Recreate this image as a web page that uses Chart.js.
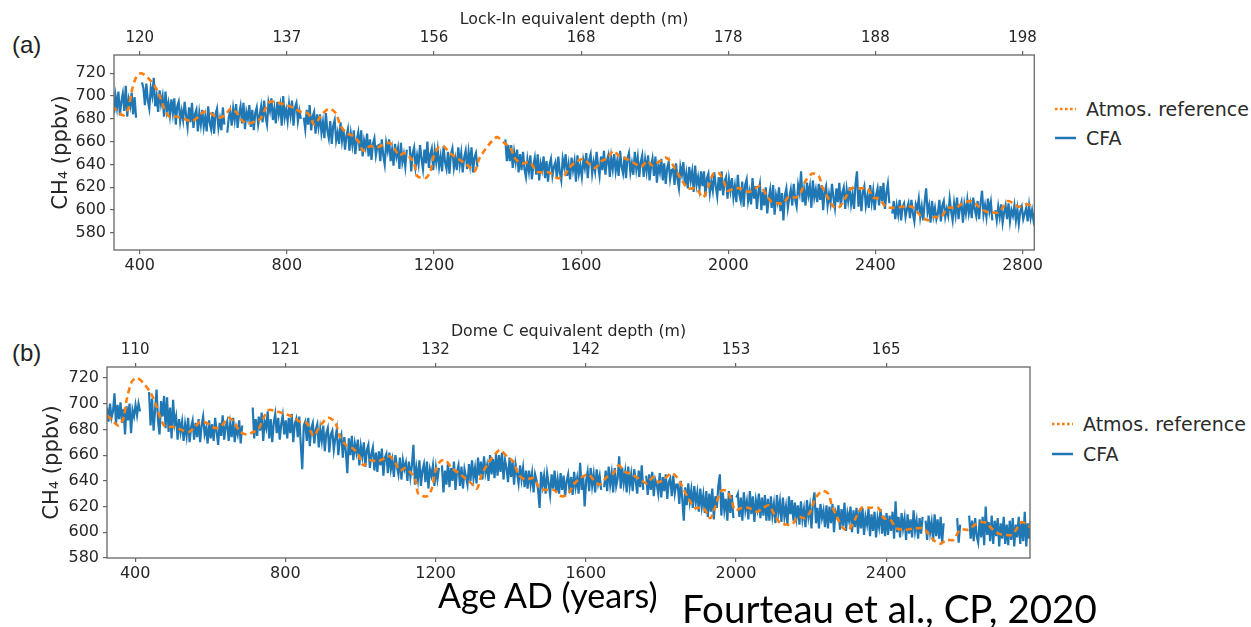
<!DOCTYPE html>
<html>
<head>
<meta charset="utf-8">
<script src="https://cdn.jsdelivr.net/npm/chart.js@4.4.1/dist/chart.umd.min.js"></script>
<style>
  html, body { margin: 0; padding: 0; background: #fff; }
  body { width: 1251px; height: 627px; position: relative; overflow: hidden; font-family: "DejaVu Sans", sans-serif; }
  .panel { position: absolute; left: 0; }
  .tag { position: absolute; left: 12px; font-family: "Liberation Sans", Arial, sans-serif; font-size: 24px; line-height: 28px; color: #222; }
  .legend { position: absolute; font-size: 19px; color: #2a2a2a; }
  .legend .row { display: flex; align-items: center; height: 29px; }
  .legend svg { margin-right: 10px; }
  .foot { position: absolute; font-family: Lato, "Open Sans", sans-serif; color: #000; white-space: nowrap; line-height: 1; }
</style>
</head>
<body>

<div class="tag" style="top:31px">(a)</div>
<div class="tag" style="top:339px">(b)</div>

<div class="panel" style="top:0"><canvas id="chartA" width="1045" height="285"></canvas></div>
<div class="panel" style="top:300px"><canvas id="chartB" width="1040" height="285"></canvas></div>

<div class="legend" style="left:1055px; top:94px">
  <div class="row"><svg width="21" height="6"><line x1="0" y1="3" x2="21" y2="3" stroke="#ff7f0e" stroke-width="2.5" stroke-dasharray="2.6 2.4"/></svg>Atmos. reference</div>
  <div class="row"><svg width="21" height="6"><line x1="0" y1="3" x2="21" y2="3" stroke="#1f77b4" stroke-width="2.5"/></svg>CFA</div>
</div>
<div class="legend" style="left:1052px; top:409px">
  <div class="row" style="height:30px"><svg width="21" height="6"><line x1="0" y1="3" x2="21" y2="3" stroke="#ff7f0e" stroke-width="2.5" stroke-dasharray="2.6 2.4"/></svg>Atmos. reference</div>
  <div class="row" style="height:30px"><svg width="21" height="6"><line x1="0" y1="3" x2="21" y2="3" stroke="#1f77b4" stroke-width="2.5"/></svg>CFA</div>
</div>

<div class="foot" style="left:438px; top:578px; font-size:34px">Age AD (years)</div>
<div class="foot" style="left:682px; top:589px; font-size:38.5px">Fourteau et al., CP, 2020</div>

<script>
// axis ticks
const ageTicks = [400, 800, 1200, 1600, 2000, 2400, 2800];
const ch4Ticks = [580, 600, 620, 640, 660, 680, 700, 720];
const lockInDepth = ['120', '137', '156', '168', '178', '188', '198'];
const domeCDepth = ['110', '121', '132', '142', '153', '165'];

// atmospheric reference record (age AD, ppbv)
const refAge = [325, 342, 356, 369, 378, 391, 404, 422, 440, 453, 467, 480, 498, 520, 542, 560, 573, 591, 613, 631,
  648, 662, 680, 697, 715, 728, 742, 755, 777, 799, 817, 839, 857, 875, 893, 915, 933, 946, 964, 981,
  995, 1008, 1026, 1044, 1061, 1079, 1092, 1106, 1119, 1132, 1146, 1154, 1177, 1190, 1199, 1212, 1226, 1243, 1266, 1292,
  1310, 1323, 1341, 1359, 1372, 1390, 1407, 1421, 1439, 1461, 1478, 1496, 1514, 1536, 1554, 1567, 1585, 1607, 1620, 1638,
  1656, 1674, 1687, 1705, 1723, 1745, 1763, 1780, 1794, 1811, 1829, 1842, 1856, 1874, 1891, 1913, 1931, 1944, 1960, 1976,
  1989, 1998, 2016, 2033, 2056, 2073, 2087, 2104, 2118, 2135, 2149, 2166, 2184, 2198, 2211, 2229, 2246, 2255, 2269, 2286,
  2300, 2317, 2335, 2357, 2379, 2393, 2410, 2428, 2450, 2477, 2499, 2512, 2526, 2543, 2561, 2579, 2597, 2619, 2637, 2655,
  2668, 2681, 2699, 2717, 2735, 2748, 2761, 2774, 2790, 2810, 2835];
const refCH4 = [691, 686, 683, 689, 704, 717, 720, 716, 709, 701, 689, 682, 682, 680, 678, 682, 686, 685, 681, 683,
  689, 686, 678, 676, 678, 680, 689, 695, 694, 692, 690, 686, 685, 675, 683, 689, 685, 674, 667, 665,
  660, 652, 656, 655, 657, 659, 654, 648, 650, 647, 641, 630, 628, 634, 647, 655, 656, 650, 645, 639,
  634, 645, 654, 661, 664, 659, 655, 645, 641, 642, 634, 633, 633, 628, 630, 637, 642, 645, 641, 637,
  643, 646, 652, 647, 645, 641, 638, 643, 639, 642, 646, 643, 636, 626, 619, 619, 611, 619, 632, 632,
  624, 617, 619, 619, 616, 619, 621, 613, 607, 606, 606, 612, 611, 616, 626, 632, 630, 621, 612, 603,
  602, 610, 619, 619, 619, 611, 610, 603, 602, 603, 603, 599, 594, 591, 594, 594, 602, 602, 606, 608,
  607, 603, 599, 598, 598, 603, 608, 606, 603, 605, 603];

// CFA record, Lock-In core: one value every 4 years from 330 AD, null = no data
const cfaStartA = 330, cfaStepA = 4;
const cfaA = [
  685, 700, 690, 704, 683, 695, 702, 687, 709, 682, 697, 691, 703, 684, 699, 681, null, null, null, 712,
  707, 692, 711, 696, 689, 707, 700, 716, 691, 700, 686, 705, 693, 700, 682, 704, 687, 694, 683, 697,
  685, 698, 675, 691, 695, 678, 687, 679, 695, 683, 673, 690, 677, 694, 672, 684, 688, 669, 685, 675,
  688, 673, 682, 669, 691, 677, 671, 686, 667, 684, 689, 672, 680, 670, 690, 675, null, 668, 681, 687,
  674, 689, 679, 693, 672, 684, 691, 676, 694, 671, 686, 680, 692, 673, 688, 670, 685, 690, 675, 683,
  691, 677, 696, 682, 675, 694, 687, 698, 679, 689, 676, 695, 684, 692, 674, 700, 681, 688, 678, 693,
  683, 696, 674, 690, 694, 678, 687, 680, null, 681, 671, 688, 675, 692, 670, 682, 686, 667, 684, 673,
  684, 668, 677, 663, 685, 670, 663, 678, 658, 674, 679, 661, 668, 658, 677, 661, 671, 653, 665, 671,
  652, 667, 657, 670, 649, 661, 668, 652, 670, 647, 661, 655, 667, 647, 662, 644, 658, 663, 648, 656,
  657, 643, 662, 648, 640, 659, 652, 662, 643, 653, 639, 658, 647, 654, 636, 659, 642, 649, 638, 653,
  null, 656, 634, 650, 655, 638, 648, 640, 657, 645, 636, 653, 641, 660, 637, 649, 654, 635, 652, 642,
  653, 638, 647, 634, 656, 642, 636, 651, 632, 649, 654, 637, 645, 635, 655, 640, 650, 633, 646, 652,
  636, 651, 640, 655, 633, 646, 650, 638, null, null, null, null, null, null, null, null, null, null, null, null,
  null, null, null, null, null, null, 662, 643, 657, 643, 657, 637, 651, 642, 653, 633, 649, 635, 651, 636,
  629, 644, 634, 648, 627, 639, 646, 631, 649, 626, 641, 635, 647, 628, 643, 625, 640, 645, 630, 638,
  642, 628, 647, 633, 626, 645, 638, 649, 630, 640, 627, 646, 635, 643, 625, 648, 632, 639, 629, 644,
  637, 650, 628, 644, 649, 632, 642, 634, 651, 639, 630, 647, 635, 652, 631, 643, 648, 629, 646, 636,
  649, 634, 643, 630, 652, 638, 632, 647, 628, 645, 650, 633, 641, 631, 651, 636, 646, 629, 642, 648,
  629, 644, 634, 648, 626, 638, 645, 630, 647, 624, 639, 633, 645, 626, 641, 623, 637, 642, 627, 635,
  636, 622, 641, 627, 619, 638, 631, 642, 622, 632, 619, 638, 626, 634, 616, 639, 622, 629, 619, 634,
  621, 634, 612, 628, 632, 615, 625, 617, 633, 621, 612, 629, 617, 634, 613, 625, 629, 610, 627, 617,
  628, 611, 621, 607, 631, 614, 608, 625, 603, 622, 627, 608, 616, 605, 628, 610, 621, 601, 616, 623,
  600, 616, 604, 620, 597, 610, 618, 602, 622, 596, 613, 607, 620, 599, 615, 591, 613, 619, 602, 611,
  618, 604, 623, 609, 603, 622, 615, 634, 607, 618, 604, 624, 613, 621, 602, 626, 611, 618, 607, 623,
  609, 622, 600, 616, 621, 604, 614, 606, 623, 611, 602, 619, 607, 624, 603, 615, 620, 601, 618, 608,
  620, 605, 614, 601, 623, 634, 603, 618, 599, 616, 621, 604, 612, 602, 622, 607, 617, 600, 613, 619,
  604, 621, 608, 624, 601, 615, 623, 606, null, 597, 608, 592, 604, 596, 609, 591, 603, 606, 594, 601,
  606, 593, 609, 597, 590, 605, 601, 610, 594, 603, 591, 607, 619, 598, 604, 589, 608, 595, 602, 592,
  597, 609, 590, 604, 608, 594, 601, 595, 610, 599, 591, 606, 596, 611, 592, 602, 607, 589, 605, 597,
  609, 597, 605, 593, 611, 601, 595, 608, 592, 606, 617, 596, 604, 594, 610, 599, 607, 591, null, 600,
  591, 603, 594, 605, 589, 598, 604, 592, 606, 590, 600, 595, 604, 591, 601, 588, 599, 603, 592, 597,
  602, 590, 604, 593, 600, 591, 598
];

// CFA record, Dome C: one value every 4 years from 325 AD
const cfaStartB = 325, cfaStepB = 4;
const cfaB = [
  697, 686, 700, 689, 694, 708, 684, 699, 688, 701, 685, 696, 676, 698, 687, 700, 677, 695, 690, 699,
  691, 700, 694, null, null, null, null, null, 709, 683, 704, 679, 695, 711, 686, 676, 702, 690, 706, 681,
  705, 678, 697, 673, 703, 684, 690, 672, 688, 678, 686, 671, 684, 675, 689, 670, 682, 687, 672, 685,
  674, 688, 670, 683, 690, 676, 681, 669, 687, 673, 684, 671, 689, 678, 668, 685, 675, 691, 672, 682,
  686, 671, 684, 674, 689, 670, 681, 676, 687, 669, 683, null, null, null, null, null, null, 697, 673, 688,
  675, 690, 679, 693, 671, 686, 681, 694, 673, 688, 670, 685, 692, 677, 689, 672, 684, 691, 676, 687,
  673, 689, 677, 692, 670, 684, 688, 674, 690, 668, 649, 683, 686, 671, 689, 667, 681, 685, 669, 680,
  684, 666, 680, 671, 683, 663, 677, 681, 662, 676, 679, 664, 673, 680, 660, 672, 676, 658, 674, 663,
  646, 673, 660, 675, 656, 669, 662, 672, 652, 667, 659, 670, 651, 664, 668, 650, 661, 666, 648, 662,
  647, 663, 652, 665, 644, 658, 661, 646, 662, 649, 656, 643, 660, 651, 645, 658, 641, 656, 649, 654,
  640, 655, 643, 652, 668, 637, 650, 641, 656, 636, 648, 653, 639, 655, 634, 649, 644, 652, 636, 650,
  641, 650, null, 652, 631, 648, 637, 654, 635, 650, 640, 655, 633, 647, 652, 636, 651, 634, 649, 643,
  637, 653, 640, 656, 642, 650, 638, 658, 644, 655, 641, 659, 646, 652, 640, 660, 645, 657, 642, 661,
  644, 660, 647, 662, 641, 656, 650, 639, 658, 643, 655, 637, 653, 646, 638, 652, 641, 650, 635, 648,
  634, 648, 637, 646, 631, 645, 640, 633, 619, 647, 636, 644, 630, 646, 638, 629, 645, 634, 648, 631,
  641, 630, 646, 633, 644, 628, 640, 645, 631, 643, 629, 647, 635, 642, 630, 654, 633, 644, 620, 640,
  647, 632, 650, 636, 645, 631, 649, 638, 644, 633, null, 635, 648, 632, 651, 637, 646, 631, 650, 636,
  642, 659, 634, 650, 638, 647, 631, 651, 636, 645, 632, 649, 640, 630, 648, 635, 652, 633, null, 644,
  629, 645, 633, 647, 628, 641, 637, 630, 646, 627, 643, 632, 645, 626, 639, 642, 628, 644, 630, 637,
  637, 622, 640, 626, 609, 635, 621, 638, 624, 633, 619, 636, 623, 631, 616, 634, 620, 629, 615, 632,
  612, 630, 616, 634, 610, 628, 619, 636, 645, 613, 631, 617, 626, 609, 632, 615, 629, 611, null, 627,
  630, 612, 627, 609, 631, 617, 624, 610, 632, 614, 628, 608, 625, 618, 630, 611, 627, 613, 629, 609,
  626, 609, 628, 613, 622, 607, 629, 615, 624, 608, 627, 612, 620, 606, 628, 614, 625, 609, 623, 611,
  621, 606, 624, 610, 618, 604, 625, 612, 620, 603, 623, 631, 607, 619, 603, 622, 611, 617, 604, 621,
  603, 620, 607, 622, 600, 616, 612, 621, 602, 618, 605, 623, 601, 615, 609, 620, 600, 617, 604, 619,
  599, 617, 603, 619, 598, 612, 606, 618, 597, 614, 601, 616, 596, 611, 604, 618, 599, 613, 597, 615,
  598, 613, 601, 616, 595, 624, 600, 612, 596, 615, 603, 611, 594, 614, 599, 610, 596, 617, 601, 609,
  595, 611, 599, 612, null, 609, 594, 613, 600, 608, 593, 614, 597, 610, 595, 612, 592, 607, null, null,
  null, null, null, null, null, null, 611, 592, 606, null, null, null, null, null, 613, 595, 609, 593, 611, 597,
  592, 610, 596, 612, 590, 620, 598, 608, 593, 613, 591, 609, 597, 611, 589, 607, 595, 612, 591, 606,
  590, 609, 594, 611, 589, 606, 596, 612, 591, 608, 593, 616, 589, 607, 595, 610
];

const BLUE = '#1f77b4', ORANGE = '#ff7f0e';
const TXT = '#262626', FRAME = '#666';

const toPoints = (start, step, vals) => vals.map((v, i) => ({x: start + i * step, y: v}));
const refPoints = refAge.map((a, i) => ({x: a, y: refCH4[i]}));

// box around the plot area
const framePlugin = {
  id: 'frame',
  afterDraw(c) {
    const {ctx, chartArea: {left, top, right, bottom}} = c;
    ctx.save();
    ctx.strokeStyle = FRAME;
    ctx.lineWidth = 1.3;
    ctx.strokeRect(left, top, right - left, bottom - top);
    ctx.restore();
  }
};

function makeChart(id, cfg) {
  const tickList = (vals) => (s) => { s.ticks = vals.filter(v => v >= s.min && v <= s.max).map(v => ({value: v})); };
  const grid = {display: true, drawOnChartArea: false, drawTicks: true, tickLength: 4, tickColor: FRAME, lineWidth: 1.2};
  return new Chart(document.getElementById(id), {
    type: 'line',
    data: {
      datasets: [
        {label: 'Atmos. reference', data: refPoints, borderColor: ORANGE, borderWidth: 2.6,
         borderDash: [6, 4], pointRadius: 0, tension: 0.3},
        {label: 'CFA', data: cfg.cfa, borderColor: BLUE, borderWidth: 2.2, pointRadius: 0,
         tension: 0, spanGaps: false}
      ]
    },
    options: {
      responsive: false, animation: false, events: [],
      layout: {padding: {top: 0, left: 0, bottom: 0, right: cfg.padRight}},
      plugins: {legend: {display: false}, tooltip: {enabled: false}},
      scales: {
        x: {
          type: 'linear', position: 'bottom', min: cfg.xMin, max: cfg.xMax,
          afterBuildTicks: tickList(ageTicks),
          afterFit: s => { s.height = cfg.bottomH; },
          grid, border: {display: false},
          ticks: {color: TXT, font: {size: 16, family: 'DejaVu Sans'}, padding: 2, maxRotation: 0,
                  callback: (v) => String(v)}
        },
        xTop: {
          type: 'linear', position: 'top', min: cfg.xMin, max: cfg.xMax,
          afterBuildTicks: tickList(ageTicks),
          afterFit: s => { s.height = cfg.topH; },
          grid, border: {display: false},
          ticks: {color: TXT, font: {size: 15, family: 'DejaVu Sans'}, padding: 4, maxRotation: 0,
                  callback: (v) => cfg.depth[ageTicks.indexOf(v)]},
          title: {display: true, text: cfg.depthTitle, color: TXT, font: {size: 15.8, family: 'DejaVu Sans'},
                  padding: {top: cfg.depthTitlePad, bottom: 0}}
        },
        y: {
          min: cfg.yMin, max: cfg.yMax,
          afterBuildTicks: tickList(ch4Ticks),
          afterFit: s => { s.width = cfg.leftW; },
          grid, border: {display: false},
          ticks: {color: TXT, font: {size: 16, family: 'DejaVu Sans'}, padding: 4},
          title: {display: true, text: 'CH₄ (ppbv)', color: TXT, font: {size: 21, family: 'DejaVu Sans'},
                  padding: {top: cfg.yTitlePad, bottom: 0}}
        }
      }
    },
    plugins: [framePlugin]
  });
}

makeChart('chartA', {
  cfa: toPoints(cfaStartA, cfaStepA, cfaA), depth: lockInDepth,
  depthTitle: 'Lock-In equivalent depth (m)', depthTitlePad: 10.5,
  xMin: 330, xMax: 2832, yMin: 565, yMax: 736,
  leftW: 114, topH: 55, bottomH: 35, padRight: 7, yTitlePad: 49.4
});

makeChart('chartB', {
  cfa: toPoints(cfaStartB, cfaStepB, cfaB), depth: domeCDepth,
  depthTitle: 'Dome C equivalent depth (m)', depthTitlePad: 22.5,
  xMin: 325, xMax: 2783, yMin: 580, yMax: 728.5,
  leftW: 107, topH: 67, bottomH: 27, padRight: 10, yTitlePad: 40.4
});
</script>
</body>
</html>
